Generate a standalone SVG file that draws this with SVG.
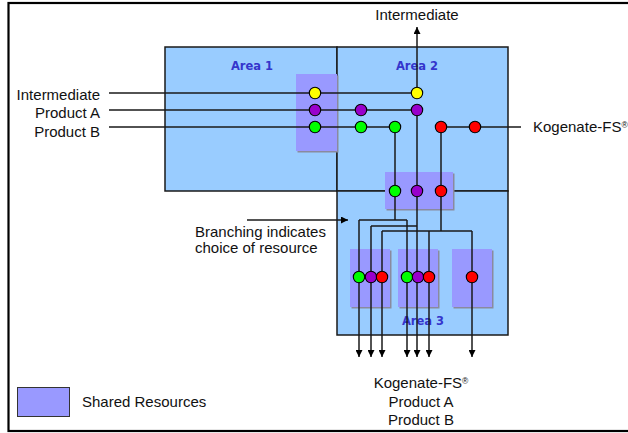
<svg xmlns="http://www.w3.org/2000/svg" width="628" height="433" viewBox="0 0 628 433">
<style>
.area{fill:#99ccff;stroke:#1a1a1a;stroke-width:1.5}
.shadow{fill:#8a8a9e}
.res{fill:#9999ff}
.lbl{font-family:"Liberation Sans",Arial,sans-serif;font-size:15px;fill:#111}
.alb{font-family:"DejaVu Sans",Verdana,sans-serif;font-size:11.5px;font-weight:bold;fill:#3535cc;text-anchor:middle}
.ln{fill:none;stroke:#1a1a1a;stroke-width:1.5}
.c{stroke:#000;stroke-width:1.1}
.y{fill:#ffff00}.p{fill:#9900cc}.g{fill:#00ff00}.r{fill:#ff0000}
</style>
<defs>
<marker id="ah" viewBox="0 0 10 10" refX="10" refY="5" markerWidth="7" markerHeight="7" markerUnits="userSpaceOnUse" orient="auto">
<path d="M0,0 L10,5 L0,10 z" fill="#000"/>
</marker>
</defs>
<rect x="0" y="0" width="628" height="433" fill="#fff"/>
<rect x="8.5" y="3" width="640" height="428" fill="none" stroke="#000" stroke-width="2.2"/>

<g id="area1"><rect class="area" x="165" y="47" width="172" height="144"/><text class="alb" x="252" y="70">Area 1</text></g>
<g id="area2"><rect class="area" x="337" y="47" width="171" height="144"/><text class="alb" x="417" y="70">Area 2</text></g>
<g id="area3"><rect class="area" x="337" y="191" width="171" height="144"/></g>

<g id="res1"><rect class="shadow" x="297.5" y="75.5" width="41" height="77"/><rect class="res" x="296" y="74" width="41" height="77"/></g>
<g id="res2"><rect class="shadow" x="386.5" y="173.5" width="68" height="37"/><rect class="res" x="385" y="172" width="68" height="37"/></g>
<g id="res3"><rect class="shadow" x="351.5" y="250.5" width="40" height="58"/><rect class="res" x="350" y="249" width="40" height="58"/></g>
<g id="res4"><rect class="shadow" x="399.5" y="250.5" width="40" height="58"/><rect class="res" x="398" y="249" width="40" height="58"/></g>
<g id="res5"><rect class="shadow" x="453.5" y="250.5" width="40" height="58"/><rect class="res" x="452" y="249" width="40" height="58"/></g>

<g id="area3label"><text class="alb" x="423" y="325">Area 3</text></g>

<g id="connectors">
<path class="ln" d="M109,93 H417"/>
<path class="ln" d="M417,93 V27" marker-end="url(#ah)"/>
<path class="ln" d="M109,110 H417 V357" marker-end="url(#ah)"/>
<path class="ln" d="M109,127 H395 V220"/>
<path class="ln" d="M521,127 H441 V231"/>
<path class="ln" d="M359,220 H407"/>
<path class="ln" d="M371,226 H417"/>
<path class="ln" d="M382,231 H472"/>
<path class="ln" d="M359,220 V357" marker-end="url(#ah)"/>
<path class="ln" d="M407,220 V357" marker-end="url(#ah)"/>
<path class="ln" d="M371,226 V357" marker-end="url(#ah)"/>
<path class="ln" d="M382,231 V357" marker-end="url(#ah)"/>
<path class="ln" d="M429,231 V357" marker-end="url(#ah)"/>
<path class="ln" d="M472,231 V357" marker-end="url(#ah)"/>
<path class="ln" d="M247,220 H348" marker-end="url(#ah)"/>
</g>

<g id="dots">
<circle class="c y" cx="315" cy="93" r="5.7"/>
<circle class="c p" cx="315" cy="110" r="5.7"/>
<circle class="c g" cx="315" cy="127" r="5.7"/>
<circle class="c y" cx="417" cy="93" r="5.7"/>
<circle class="c p" cx="361" cy="110" r="5.7"/>
<circle class="c p" cx="417" cy="110" r="5.7"/>
<circle class="c g" cx="361" cy="127" r="5.7"/>
<circle class="c g" cx="395" cy="127" r="5.7"/>
<circle class="c r" cx="441" cy="127" r="5.7"/>
<circle class="c r" cx="475" cy="127" r="5.7"/>
<circle class="c g" cx="395" cy="191" r="5.7"/>
<circle class="c p" cx="417" cy="191" r="5.7"/>
<circle class="c r" cx="441" cy="191" r="5.7"/>
<circle class="c g" cx="359" cy="277" r="5.7"/>
<circle class="c p" cx="371" cy="277" r="5.7"/>
<circle class="c r" cx="382" cy="277" r="5.7"/>
<circle class="c g" cx="407" cy="277" r="5.7"/>
<circle class="c p" cx="418" cy="277" r="5.7"/>
<circle class="c r" cx="429" cy="277" r="5.7"/>
<circle class="c r" cx="472" cy="277" r="5.7"/>
</g>

<g id="labels">
<text class="lbl" x="100" y="99.5" text-anchor="end">Intermediate</text>
<text class="lbl" x="100" y="118" text-anchor="end">Product A</text>
<text class="lbl" x="100" y="136.5" text-anchor="end">Product B</text>
<text class="lbl" x="417" y="20" text-anchor="middle">Intermediate</text>
<text class="lbl" x="533" y="132" font-size="14.5">Kogenate-FS<tspan font-size="8.5" dy="-4">®</tspan></text>
<text class="lbl" x="421" y="388" text-anchor="middle">Kogenate-FS<tspan font-size="8.5" dy="-4">®</tspan></text>
<text class="lbl" x="195" y="236.5">Branching indicates</text>
<text class="lbl" x="195" y="252.5">choice of resource</text>
<text class="lbl" x="421" y="406.5" text-anchor="middle">Product A</text>
<text class="lbl" x="421" y="425" text-anchor="middle">Product B</text>
</g>

<g id="legend">
<rect x="17.5" y="387.5" width="52" height="29" fill="#9999ff" stroke="#333" stroke-width="1"/>
<text class="lbl" x="82" y="407">Shared Resources</text>
</g>
</svg>
